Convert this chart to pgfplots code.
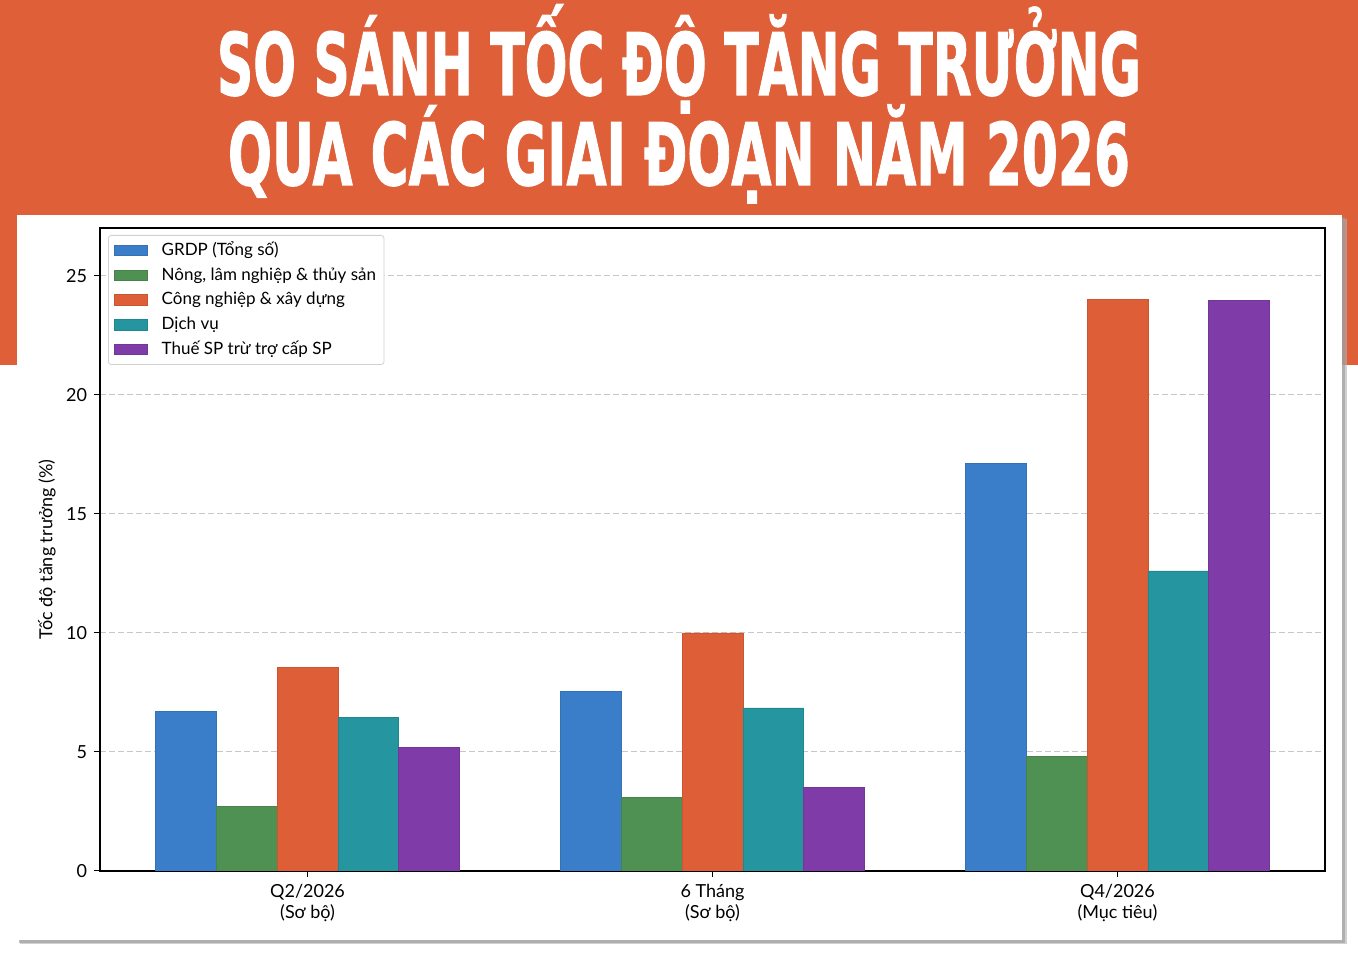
\documentclass[border=0pt]{standalone}
\usepackage{fontspec}
\setmainfont{Lato}
\newfontfamily\titlefont{DejaVu Sans}[BoldFeatures={FakeBold=1.6}]
\usepackage{graphicx}
\usepackage{pgfplots}
\usepackage{pgfplotstable}
\pgfplotsset{compat=1.18}
\definecolor{bgorange}{HTML}{DE5F38}
\definecolor{cblue}{HTML}{3A7DC9}
\definecolor{cgreen}{HTML}{4F9153}
\definecolor{corange}{HTML}{DE5F37}
\definecolor{cteal}{HTML}{25969F}
\definecolor{cpurple}{HTML}{7F3CA8}
\pgfplotsset{mylegend/.style={legend image code/.code={\fill[##1,sharp corners] (0bp,-2.6bp) rectangle (16.5bp,2.6bp); \path[draw=none,fill=none] (0bp,0bp) -- (22.5bp,0bp);}}}
\pgfplotstableread{
x grdp nong cong dv thue
0 6.7 2.7 8.55 6.45 5.2
1 7.55 3.1 10.0 6.85 3.5
2 17.1 4.8 24.0 12.6 23.95
}\data
\begin{document}
\begin{tikzpicture}
\fill[white] (0,0) rectangle (679bp,478bp);
\fill[bgorange] (0,295.5bp) rectangle (679bp,478bp);
\fill[black!30,opacity=0.6] (10bp,6bp) rectangle (673.5bp,368.5bp);
\fill[black!40,opacity=0.6] (9.5bp,6.7bp) rectangle (672.3bp,369.5bp);
\fill[white] (8.5bp,8bp) rectangle (671bp,370.5bp);
\node[white,anchor=base,inner sep=0] at (339.5bp,430.5bp) {\resizebox{462bp}{\height}{\titlefont\bfseries\fontsize{43bp}{43bp}\selectfont SO SÁNH TỐC ĐỘ TĂNG TRƯỞNG}};
\node[white,anchor=base,inner sep=0] at (339.5bp,385.5bp) {\resizebox{451bp}{\height}{\titlefont\bfseries\fontsize{43bp}{43bp}\selectfont QUA CÁC GIAI ĐOẠN NĂM 2026}};
\begin{axis}[
  at={(50bp,42.5bp)}, anchor=south west,
  scale only axis, width=612.5bp, height=321.5bp,
  xmin=-0.5125, xmax=2.5125, ymin=0, ymax=27,
  ytick={0,5,10,15,20,25},
  xtick={0,1,2},
  xticklabels={{Q2/2026\\(Sơ bộ)},{6 Tháng\\(Sơ bộ)},{Q4/2026\\(Mục tiêu)}},
  xticklabel style={align=center, font=\fontsize{9bp}{10.5bp}\selectfont},
  yticklabel style={font=\fontsize{9bp}{10.5bp}\selectfont},
  /pgf/number format/assume math mode=true,
  tick pos=left, tick align=outside, major tick length=3bp,
  tick style={black, line width=0.5bp},
  axis line style={black, line width=0.7bp},
  ymajorgrids, grid style={black!22, line width=0.5bp, dash pattern=on 3bp off 1.5bp},
  ylabel={Tốc độ tăng trưởng (\%)},
  every axis y label/.style={at={(axis description cs:-0.0433,0.5)}, rotate=90, anchor=center, font=\fontsize{9bp}{10.5bp}\selectfont},
  ybar, bar width=0.15,
  legend style={at={(axis description cs:0,1)}, anchor=north west, xshift=4bp, yshift=-3.5bp,
     draw=black!18, rounded corners=1.5bp, font=\fontsize{8.5bp}{10bp}\selectfont,
     nodes={inner sep=1bp, text height=7bp, text depth=2bp}, row sep=1.4bp, inner xsep=3bp, inner ysep=2bp},
  legend cell align=left,
]
\addplot[fill=cblue, draw=cblue!90!black, line width=0.3bp, bar shift=-0.3, mylegend] table[x=x,y=grdp]{\data};
\addlegendentry{GRDP (Tổng số)}
\addplot[fill=cgreen, draw=cgreen!90!black, line width=0.3bp, bar shift=-0.15, mylegend] table[x=x,y=nong]{\data};
\addlegendentry{Nông, lâm nghiệp \& thủy sản}
\addplot[fill=corange, draw=corange!90!black, line width=0.3bp, bar shift=0, mylegend] table[x=x,y=cong]{\data};
\addlegendentry{Công nghiệp \& xây dựng}
\addplot[fill=cteal, draw=cteal!90!black, line width=0.3bp, bar shift=0.15, mylegend] table[x=x,y=dv]{\data};
\addlegendentry{Dịch vụ}
\addplot[fill=cpurple, draw=cpurple!90!black, line width=0.3bp, bar shift=0.3, mylegend] table[x=x,y=thue]{\data};
\addlegendentry{Thuế SP trừ trợ cấp SP}
\end{axis}
\pgfresetboundingbox
\useasboundingbox (0,0) rectangle (679bp,478bp);
\end{tikzpicture}
\end{document}
